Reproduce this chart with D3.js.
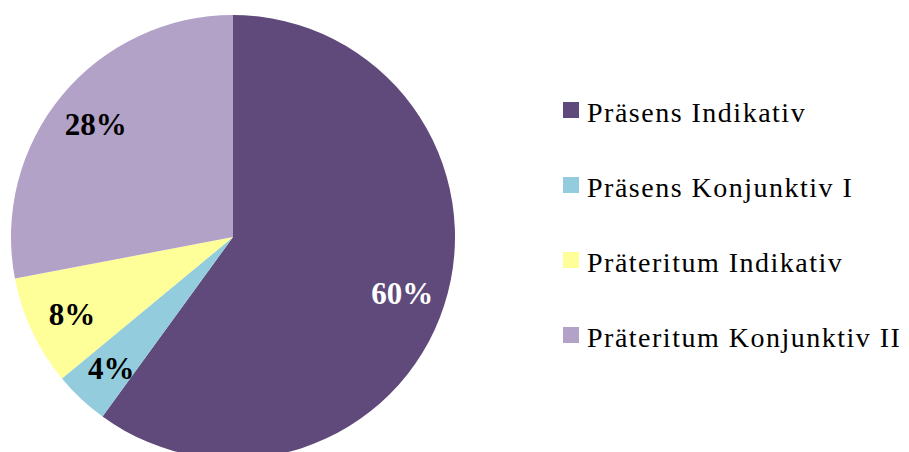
<!DOCTYPE html>
<html>
<head>
<meta charset="utf-8">
<script src="https://cdn.jsdelivr.net/npm/d3@7"></script>
<style>
  body { margin: 0; background: #fff; }
  text { font-family: "Liberation Serif", "Times New Roman", serif; }
</style>
</head>
<body>
<svg id="chart" width="909" height="452"></svg>
<script>
var categories = ["Präsens Indikativ", "Präsens Konjunktiv I", "Präteritum Indikativ", "Präteritum Konjunktiv II"]
var values = [60, 4, 8, 28]
var colors = ["#604A7B", "#93CDDD", "#FFFF99", "#B3A2C7"]
var labelColors = ["#fff", "#000", "#000", "#000"]

var data = categories.map((c, i) => ({name: c, value: values[i], color: colors[i], label: labelColors[i]}))

var svg = d3.select("#chart"),
    cx = 233, cy = 237, radius = 222;

var pie = d3.pie().sort(null).value(d => d.value)
var arc = d3.arc().innerRadius(0).outerRadius(radius)
var labelArc = d3.arc().innerRadius(178).outerRadius(178)

var g = svg.append("g").attr("transform", `translate(${cx},${cy})`)

g.selectAll("path")
  .data(pie(data))
  .enter().append("path")
  .attr("d", arc)
  .attr("fill", d => d.data.color)

g.selectAll(".lbl")
  .data(pie(data))
  .enter().append("text")
  .attr("class", "lbl")
  .attr("transform", d => `translate(${labelArc.centroid(d)})`)
  .attr("text-anchor", "middle")
  .attr("dy", "0.38em")
  .style("font-size", "31px")
  .style("font-weight", "bold")
  .attr("fill", d => d.data.label)
  .text(d => d.data.value + "%")

var legend = svg.append("g").attr("transform", "translate(563,0)")
var ly = d3.scalePoint().domain(categories).range([122, 347])

var item = legend.selectAll(".item")
  .data(data)
  .enter().append("g")
  .attr("class", "item")
  .attr("transform", d => `translate(0,${ly(d.name)})`)

item.append("rect")
  .attr("x", 0).attr("y", -20)
  .attr("width", 16).attr("height", 16)
  .attr("fill", d => d.color)

item.append("text")
  .attr("x", 24).attr("y", 0)
  .style("font-size", "28px")
  .style("letter-spacing", "1.5px")
  .attr("fill", "#000")
  .text(d => d.name)
</script>
</body>
</html>
